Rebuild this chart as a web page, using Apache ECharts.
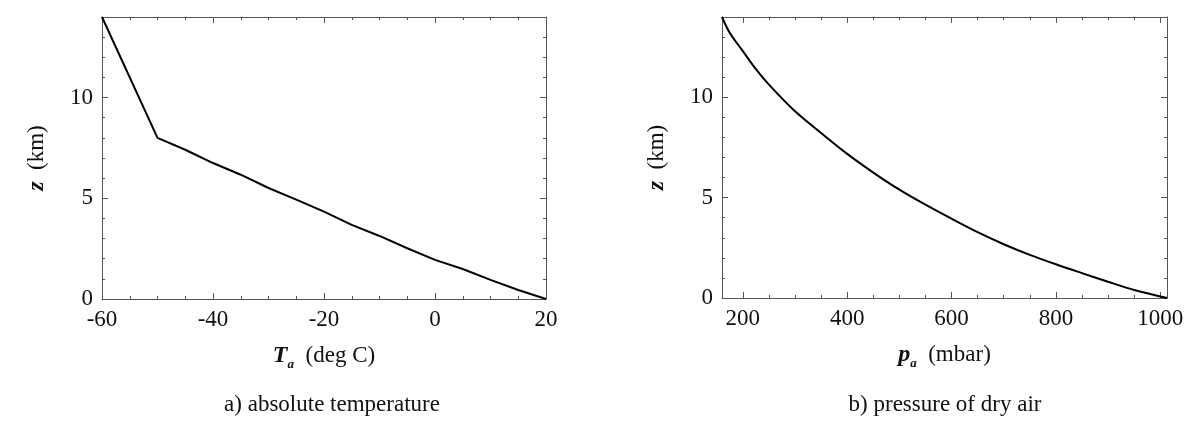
<!DOCTYPE html>
<html>
<head>
<meta charset="utf-8">
<title>Height profiles</title>
<script src="https://cdn.jsdelivr.net/npm/echarts@6/dist/echarts.min.js"></script>
<style>
    html, body { margin: 0; padding: 0; background: #fff; }
    #main { width: 1200px; height: 433px; }
</style>
</head>
<body>
<div id="main"></div>
<script>
// a) absolute temperature: T (deg C) vs height z (km)
var tempValues  = [-60, -50, -45, -40, -35, -30, -25, -20, -15, -10, -5, 0, 5, 10, 15, 20];
var tempHeights = [14, 8, 7.41, 6.75, 6.17, 5.51, 4.93, 4.34, 3.68, 3.13, 2.52, 1.94, 1.49, 0.95, 0.45, 0];

// b) pressure of dry air: p (mbar) vs height z (km)
var pressValues  = [160, 175, 200, 225, 250, 300, 350, 400, 450, 500, 550, 600, 650, 700, 750, 800, 850, 900, 950, 1013];
var pressHeights = [14, 13.2, 12.3, 11.4, 10.63, 9.3, 8.22, 7.18, 6.25, 5.4, 4.65, 3.95, 3.28, 2.68, 2.15, 1.68, 1.24, 0.81, 0.4, 0];

// tick labels / tick marks
var tempTicks = [-60, -40, -20, 0, 20];
var tempMinor = [-55, -50, -45, -35, -30, -25, -15, -10, -5, 5, 10, 15];
var pressTicks = [200, 400, 600, 800, 1000];
var pressMinor = [250, 300, 350, 450, 500, 550, 650, 700, 750, 850, 900, 950];
var zTicks = [0, 5, 10];
var zMinor = [1, 2, 3, 4, 6, 7, 8, 9, 11, 12, 13];

var FONT = 'Liberation Serif';
var LINE = '#555';

// name with bold italic symbol and subscript
var nameStyle = {
    fontFamily: FONT,
    fontSize: 22,
    color: '#111',
    rich: {
        v: { fontFamily: FONT, fontSize: 24, fontWeight: 'bold', fontStyle: 'italic', color: '#111', lineHeight: 30 },
        s: { fontFamily: FONT, fontSize: 13, fontWeight: 'bold', fontStyle: 'italic', color: '#111', lineHeight: 13, verticalAlign: 'bottom' },
        u: { fontFamily: FONT, fontSize: 23, color: '#111', lineHeight: 30 }
    }
};

// one frame side = a major axis (line, long ticks, maybe labels) + a minor axis (short ticks)
function side(grid, pos, min, max, major, minor, labels, name, gap) {
    var major_ = {
        gridIndex: grid, type: 'value', position: pos, min: min, max: max,
        axisLine: { show: true, onZero: false, lineStyle: { color: LINE, width: 1 } },
        axisTick: { show: true, inside: true, length: 6, customValues: major, lineStyle: { color: LINE } },
        axisLabel: {
            show: labels, customValues: major, margin: 9,
            fontFamily: FONT, fontSize: 23, color: '#111',
            formatter: function (v) { return String(v); }
        },
        splitLine: { show: false }
    };
    if (name) {
        major_.name = name;
        major_.nameLocation = 'middle';
        major_.nameGap = gap;
        major_.nameTextStyle = nameStyle;
    }
    var minor_ = {
        gridIndex: grid, type: 'value', position: pos, min: min, max: max,
        axisLine: { show: false, onZero: false },
        axisTick: { show: true, inside: true, length: 3, customValues: minor, lineStyle: { color: LINE } },
        axisLabel: { show: false },
        splitLine: { show: false }
    };
    return [major_, minor_];
}

var xAxes = [].concat(
    side(0, 'bottom', -60, 20, tempTicks, tempMinor, true, '{v|T}{s|a}{u|  (deg C)}', 42),
    side(0, 'top', -60, 20, tempTicks, tempMinor, false),
    side(1, 'bottom', 160, 1013, pressTicks, pressMinor, true, '{v|p}{s|a}{u|  (mbar)}', 42),
    side(1, 'top', 160, 1013, pressTicks, pressMinor, false)
);
var yAxes = [].concat(
    side(0, 'left', 0, 14, zTicks, zMinor, true, '{v|z}{u|  (km)}', 50),
    side(0, 'right', 0, 14, zTicks, zMinor, false),
    side(1, 'left', 0, 14, zTicks, zMinor, true, '{v|z}{u|  (km)}', 50),
    side(1, 'right', 0, 14, zTicks, zMinor, false)
);

var tempData = tempValues.map(function (t, i) { return [t, tempHeights[i]]; });
var pressData = pressValues.map(function (p, i) { return [p, pressHeights[i]]; });

var myChart = echarts.init(document.getElementById('main'));
var option = {
    animation: false,
    backgroundColor: '#fff',
    grid: [
        { left: 102, top: 17, width: 444, height: 282 },
        { left: 722, top: 17, width: 445, height: 281 }
    ],
    xAxis: xAxes,
    yAxis: yAxes,
    graphic: [
        {
            type: 'text', x: 332, y: 405,
            style: { text: 'a) absolute temperature', font: '23px "Liberation Serif"', fill: '#111', align: 'center', verticalAlign: 'middle' }
        },
        {
            type: 'text', x: 945, y: 405,
            style: { text: 'b) pressure of dry air', font: '23px "Liberation Serif"', fill: '#111', align: 'center', verticalAlign: 'middle' }
        }
    ],
    series: [
        {
            type: 'line', xAxisIndex: 0, yAxisIndex: 0,
            data: tempData, showSymbol: false,
            lineStyle: { color: '#000', width: 2 }
        },
        {
            type: 'line', xAxisIndex: 4, yAxisIndex: 4,
            data: pressData, showSymbol: false, smooth: 0.3,
            lineStyle: { color: '#000', width: 2 }
        }
    ]
};
myChart.setOption(option);
</script>
</body>
</html>
